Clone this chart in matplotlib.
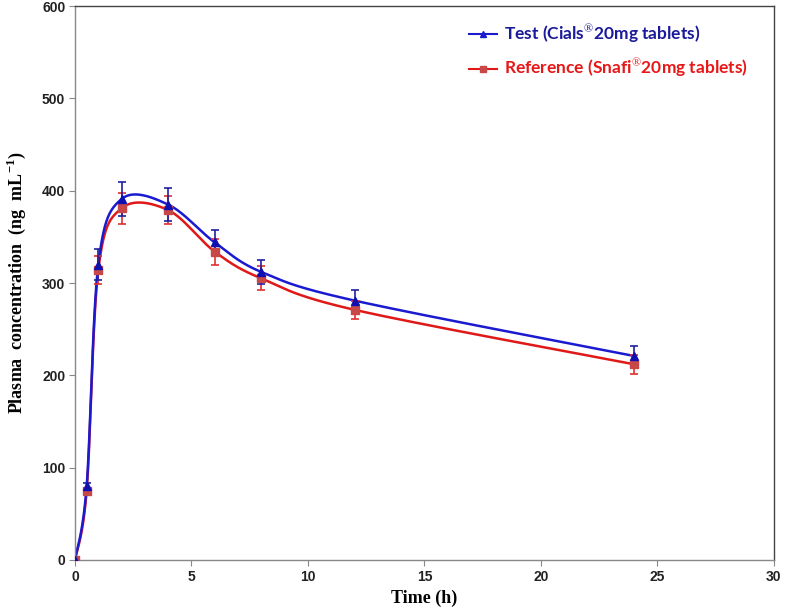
import numpy as np
import matplotlib
matplotlib.use("Agg")
import matplotlib.pyplot as plt

plt.rcParams["mathtext.fontset"] = "custom"
plt.rcParams["mathtext.rm"] = "Liberation Serif"
plt.rcParams["mathtext.bf"] = "Liberation Serif:bold"

time_h = [0, 0.5, 1, 2, 4, 6, 8, 12, 24]
test_mean = [0, 80, 320, 391, 385, 344, 312, 281, 221]
test_sd = [0, 3, 17, 18, 18, 14, 13, 11, 11]
ref_mean = [0, 75, 314, 381, 379, 334, 305, 271, 212]
ref_sd = [0, 3, 15, 17, 15, 14, 13, 10, 10]
test_label = "Test (Cials$^{\u00ae}$20mg tablets)"
ref_label = "Reference (Snafi$^{\u00ae}$20mg tablets)"
x_ticks = [0, 5, 10, 15, 20, 25, 30]
y_ticks = [0, 100, 200, 300, 400, 500, 600]


def smooth_curve(x, y, n=40):
    # Excel-like smoothed line: cubic Bezier through points (Catmull-Rom, tension 1/6)
    x = np.asarray(x, float)
    y = np.asarray(y, float)
    px, py = [], []
    m = len(x)
    for i in range(m - 1):
        x0, y0 = (x[i - 1], y[i - 1]) if i > 0 else (x[i], y[i])
        x3, y3 = (x[i + 2], y[i + 2]) if i + 2 < m else (x[i + 1], y[i + 1])
        x1, y1 = x[i], y[i]
        x2, y2 = x[i + 1], y[i + 1]
        c1x = x1 + (x2 - x0) / 6
        c1y = y1 + (y2 - y0) / 6
        c2x = x2 - (x3 - x1) / 6
        c2y = y2 - (y3 - y1) / 6
        t = np.linspace(0, 1, n)
        bx = (1 - t) ** 3 * x1 + 3 * (1 - t) ** 2 * t * c1x + 3 * (1 - t) * t ** 2 * c2x + t ** 3 * x2
        by = (1 - t) ** 3 * y1 + 3 * (1 - t) ** 2 * t * c1y + 3 * (1 - t) * t ** 2 * c2y + t ** 3 * y2
        px.extend(bx)
        py.extend(by)
    return np.array(px), np.array(py)


fig = plt.figure(figsize=(7.87, 6.12), dpi=100)
ax = fig.add_axes([0.0953, 0.085, 0.888, 0.905])

blue_line = "#1a1ad0"
red_line = "#e01818"

sx, sy = smooth_curve(time_h, ref_mean)
ax.plot(sx, sy, color=red_line, lw=1.8, zorder=2)
ax.errorbar(time_h, ref_mean, yerr=ref_sd, fmt="none", ecolor="#e03030",
            elinewidth=1.2, capsize=3, capthick=1.2, zorder=3)
ax.plot(time_h, ref_mean, ls="none", marker="s", ms=5.5, color="#c84848", zorder=4)

sx, sy = smooth_curve(time_h, test_mean)
ax.plot(sx, sy, color=blue_line, lw=1.8, zorder=2)
ax.errorbar(time_h, test_mean, yerr=test_sd, fmt="none", ecolor="#2020a0",
            elinewidth=1.2, capsize=3, capthick=1.2, zorder=3)
ax.plot(time_h, test_mean, ls="none", marker="^", ms=6, color="#1010b0", zorder=4)

ax.plot([], [], color=blue_line, marker="^", ms=4.5, lw=1.5, label=test_label)
ax.plot([], [], color=red_line, marker="s", ms=4, mfc="#c84848", mec="#c84848", lw=1.5, label=ref_label)

ax.set_xlim(0, 30)
ax.set_ylim(0, 600)
ax.set_xticks(x_ticks)
ax.set_yticks(y_ticks)
ax.tick_params(direction="out", length=4, width=0.8, color="#888888", pad=3)
for lab in ax.get_xticklabels() + ax.get_yticklabels():
    lab.set_fontfamily("Liberation Sans")
    lab.set_fontweight("bold")
    lab.set_fontsize(10)
    lab.set_color("#222222")
for s in ["left", "bottom"]:
    ax.spines[s].set_color("#888888")
    ax.spines[s].set_linewidth(1.0)
for s in ["top", "right"]:
    ax.spines[s].set_color("#444444")
    ax.spines[s].set_linewidth(1.0)

ax.set_xlabel("Time (h)", fontfamily="Liberation Serif", fontweight="bold", fontsize=13, labelpad=4)
ax.set_ylabel("Plasma  concentration  (ng  mL$^{\\mathbf{-1}}$)", fontfamily="Liberation Serif",
              fontweight="bold", fontsize=13, labelpad=10)

leg = ax.legend(loc="upper right", frameon=False, prop={"family": "Lato", "size": 12.5, "weight": "bold"},
                handlelength=1.6, handletextpad=0.4, labelspacing=0.65, bbox_to_anchor=(0.985, 0.998))
for txt, c in zip(leg.get_texts(), ["#1a1a9a", "#e81818"]):
    txt.set_color(c)

fig.savefig("out.png", dpi=100)
